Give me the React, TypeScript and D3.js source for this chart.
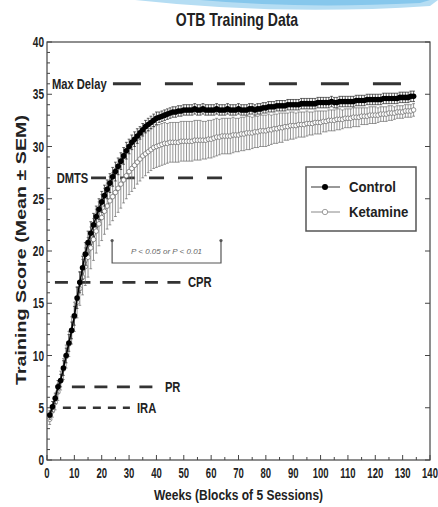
import * as d3 from 'd3'

// weekly means (blocks of 5 sessions)
const controlMean = [
  4.3, 5.1, 5.9, 7.0, 7.6, 8.8, 10.0, 11.2, 12.4, 13.8,
  15.5, 17.0, 18.4, 19.7, 20.8, 21.7, 22.5, 23.3, 24.0, 24.7,
  25.3, 25.9, 26.5, 27.1, 27.6, 28.1, 28.6, 29.1, 29.6, 30.0,
  30.4, 30.7, 31.0, 31.3, 31.6, 31.9, 32.1, 32.3, 32.5, 32.7,
  32.8, 32.9, 33.0, 33.1, 33.2, 33.3, 33.3, 33.4, 33.4, 33.5,
  33.5, 33.5, 33.5, 33.6, 33.5, 33.5, 33.6, 33.5, 33.5, 33.5,
  33.5, 33.6, 33.5, 33.5, 33.5, 33.6, 33.5, 33.5, 33.5, 33.6,
  33.5, 33.5, 33.5, 33.6, 33.6, 33.5, 33.6, 33.6, 33.7, 33.7,
  33.8, 33.8, 33.8, 33.9, 33.9, 33.9, 33.9, 34.0, 34.0, 34.0,
  34.0, 34.0, 34.1, 34.1, 34.1, 34.1, 34.1, 34.1, 34.2, 34.2,
  34.2, 34.2, 34.2, 34.3, 34.2, 34.2, 34.3, 34.3, 34.3, 34.3,
  34.3, 34.3, 34.4, 34.4, 34.4, 34.4, 34.5, 34.5, 34.5, 34.5,
  34.5, 34.5, 34.6, 34.6, 34.6, 34.6, 34.6, 34.6, 34.7, 34.7,
  34.7, 34.7, 34.8, 34.8,
]
const controlSem = [
  0.4, 0.5, 0.5, 0.6, 0.6, 0.7, 0.7, 0.8, 0.8, 0.9,
  1.0, 1.0, 1.1, 1.1, 1.1, 1.1, 1.1, 1.0, 1.0, 1.0,
  1.0, 0.9, 0.9, 0.9, 0.9, 0.8, 0.8, 0.8, 0.8, 0.7,
  0.7, 0.7, 0.7, 0.6, 0.6, 0.6, 0.6, 0.6, 0.6, 0.6,
  0.5, 0.5, 0.5, 0.5, 0.5, 0.5, 0.5, 0.5, 0.5, 0.5,
  0.5, 0.5, 0.5, 0.5, 0.5, 0.5, 0.5, 0.5, 0.5, 0.5,
  0.5, 0.5, 0.5, 0.5, 0.5, 0.5, 0.5, 0.5, 0.5, 0.5,
  0.5, 0.5, 0.5, 0.5, 0.5, 0.5, 0.5, 0.5, 0.5, 0.5,
  0.5, 0.5, 0.5, 0.5, 0.5, 0.5, 0.5, 0.5, 0.5, 0.5,
  0.5, 0.5, 0.5, 0.5, 0.5, 0.5, 0.5, 0.5, 0.5, 0.5,
  0.5, 0.5, 0.5, 0.5, 0.5, 0.5, 0.5, 0.5, 0.5, 0.5,
  0.5, 0.5, 0.5, 0.5, 0.5, 0.5, 0.5, 0.5, 0.5, 0.5,
  0.5, 0.5, 0.5, 0.5, 0.5, 0.5, 0.5, 0.5, 0.5, 0.5,
  0.5, 0.5, 0.5, 0.5,
]
const ketamineMean = [
  3.9, 4.7, 5.5, 6.5, 7.6, 8.7, 9.9, 11.1, 12.4, 13.7,
  15.1, 16.4, 17.5, 18.5, 19.4, 20.3, 21.1, 21.9, 22.6, 23.2,
  23.8, 24.3, 24.8, 25.2, 25.6, 26.0, 26.4, 26.8, 27.2, 27.6,
  27.9, 28.2, 28.5, 28.8, 29.1, 29.3, 29.5, 29.7, 29.9, 30.0,
  30.1, 30.2, 30.3, 30.3, 30.4, 30.4, 30.4, 30.4, 30.5, 30.5,
  30.5, 30.5, 30.5, 30.6, 30.6, 30.6, 30.6, 30.6, 30.7, 30.7,
  30.8, 30.9, 30.9, 31.0, 31.0, 31.0, 31.0, 31.1, 31.1, 31.1,
  31.2, 31.2, 31.3, 31.3, 31.3, 31.4, 31.4, 31.5, 31.5, 31.5,
  31.6, 31.6, 31.7, 31.7, 31.8, 31.8, 31.9, 31.9, 32.0, 32.0,
  32.0, 32.1, 32.1, 32.1, 32.2, 32.2, 32.2, 32.3, 32.3, 32.3,
  32.4, 32.4, 32.5, 32.5, 32.5, 32.6, 32.6, 32.6, 32.7, 32.7,
  32.7, 32.8, 32.8, 32.8, 32.9, 32.9, 32.9, 33.0, 33.0, 33.0,
  33.0, 33.1, 33.1, 33.1, 33.2, 33.2, 33.2, 33.3, 33.3, 33.3,
  33.4, 33.4, 33.4, 33.5,
]
const ketamineSem = [
  0.5, 0.6, 0.7, 0.8, 0.9, 1.0, 1.1, 1.2, 1.3, 1.4,
  1.5, 1.6, 1.7, 1.8, 1.9, 2.0, 2.0, 2.1, 2.1, 2.2,
  2.2, 2.2, 2.3, 2.3, 2.3, 2.3, 2.3, 2.2, 2.2, 2.2,
  2.2, 2.2, 2.1, 2.1, 2.1, 2.1, 2.0, 2.0, 2.0, 2.0,
  2.0, 2.0, 2.0, 1.9, 1.9, 1.9, 1.9, 1.9, 1.9, 1.9,
  1.9, 1.9, 1.9, 1.9, 1.9, 1.9, 1.8, 1.8, 1.8, 1.8,
  1.8, 1.8, 1.7, 1.7, 1.7, 1.7, 1.7, 1.7, 1.6, 1.6,
  1.6, 1.6, 1.6, 1.6, 1.5, 1.5, 1.5, 1.5, 1.5, 1.5,
  1.5, 1.4, 1.4, 1.4, 1.4, 1.4, 1.3, 1.3, 1.3, 1.3,
  1.2, 1.2, 1.2, 1.2, 1.2, 1.1, 1.1, 1.1, 1.1, 1.1,
  1.0, 1.0, 1.0, 1.0, 1.0, 1.0, 1.0, 0.9, 0.9, 0.9,
  0.9, 0.9, 0.9, 0.9, 0.8, 0.8, 0.8, 0.8, 0.8, 0.8,
  0.7, 0.7, 0.7, 0.7, 0.7, 0.7, 0.6, 0.6, 0.6, 0.6,
  0.6, 0.6, 0.6, 0.6,
]

// training criteria levels
const criteria = ['Max Delay', 'DMTS', 'CPR', 'PR', 'IRA']
const criteriaScore = [36, 27, 17, 7, 5]

const xTicks = [0, 10, 20, 30, 40, 50, 60, 70, 80, 90, 100, 110, 120, 130, 140]
const yTicks = [0, 5, 10, 15, 20, 25, 30, 35, 40]

const W = 438
const H = 507
const m = { top: 42, right: 8, bottom: 47, left: 47 }
const font = "'Liberation Sans', Arial, sans-serif"

// where each criterion line is drawn (weeks) and how its label sits
const critLayout = [
  { x0: 24.1, x1: 129.4, dash: '28,24', sw: 3, lx: 1.8, anchor: 'start' },
  { x0: 16.1, x1: 64, dash: '15,14', sw: 2.6, lx: 15.1, anchor: 'end' },
  { x0: 2.9, x1: 49, dash: '13,9.5', sw: 2.8, lx: 51.5, anchor: 'start' },
  { x0: 9.1, x1: 39.5, dash: '13,9.5', sw: 2.6, lx: 43.1, anchor: 'start' },
  { x0: 5.8, x1: 30.3, dash: '8,7', sw: 2.6, lx: 32.9, anchor: 'start' },
]

// bold condensed text: the figure uses a narrow face, so squeeze a regular one
function NText({ x, y, sx = 0.8, size = 14, anchor = 'start', children }: any) {
  return (
    <g transform={`translate(${x},${y}) scale(${sx},1)`}>
      <text textAnchor={anchor} fontFamily={font} fontWeight="bold" fontSize={size} fill="#222">
        {children}
      </text>
    </g>
  )
}

export default function App() {
  const x = d3.scaleLinear().domain([0, 140]).range([m.left, W - m.right])
  const y = d3.scaleLinear().domain([0, 40]).range([H - m.bottom, m.top])
  const weeks = controlMean.map((_, i) => i + 1)

  const line = d3.line<number>().x((_, i) => x(weeks[i])).y(d => y(d))

  const minorX = d3.range(0, 141, 5).filter(v => v % 10 !== 0)
  const minorY = d3.range(0, 41, 1).filter(v => v % 5 !== 0)

  const errBars = (mean: number[], sem: number[], color: string, key: string) =>
    mean.map((v, i) => {
      const cx = x(weeks[i])
      const lo = y(v - sem[i])
      const hi = y(v + sem[i])
      return (
        <g key={key + i} stroke={color} strokeWidth={0.7}>
          <line x1={cx} x2={cx} y1={lo} y2={hi} />
          <line x1={cx - 1.4} x2={cx + 1.4} y1={lo} y2={lo} />
          <line x1={cx - 1.4} x2={cx + 1.4} y1={hi} y2={hi} />
        </g>
      )
    })

  const [x0, x1] = x.range()
  const [yb, yt] = y.range()

  return (
    <svg width={W} height={H} style={{ position: 'absolute', left: 0, top: 0, background: '#fff' }}>
      {/* slide decoration */}
      <path d="M135,0 Q280,16 430,6 L438,0 Z" fill="#b5ddf3" />
      <path d="M200,0 Q300,9 420,3 L430,0 Z" fill="#86c7ec" />

      <NText x={237} y={26} size={18} sx={0.78} anchor="middle">OTB Training Data</NText>

      {/* frame */}
      <rect x={x0} y={yt} width={x1 - x0} height={yb - yt} fill="none" stroke="#444" strokeWidth={1.2} />

      {/* ticks */}
      <g stroke="#444" strokeWidth={1}>
        {xTicks.map(t => <line key={'xt' + t} x1={x(t)} x2={x(t)} y1={yb} y2={yb - 5} />)}
        {minorX.map(t => <line key={'xm' + t} x1={x(t)} x2={x(t)} y1={yb} y2={yb - 3} />)}
        {yTicks.map(t => <line key={'yt' + t} x1={x0} x2={x0 + 5} y1={y(t)} y2={y(t)} />)}
        {minorY.map(t => <line key={'ym' + t} x1={x0} x2={x0 + 3} y1={y(t)} y2={y(t)} />)}
        {yTicks.map(t => <line key={'yr' + t} x1={x1} x2={x1 - 5} y1={y(t)} y2={y(t)} />)}
      </g>
      {xTicks.map(t => (
        <NText key={'xl' + t} x={x(t)} y={yb + 18} size={14} sx={0.68} anchor="middle">{t}</NText>
      ))}
      {yTicks.map(t => (
        <NText key={'yl' + t} x={x0 - 3} y={y(t) + 5} size={14} sx={0.72} anchor="end">{t}</NText>
      ))}
      <NText x={(x0 + x1) / 2} y={500} size={15} sx={0.8} anchor="middle">Weeks (Blocks of 5 Sessions)</NText>
      <text
        transform="translate(26,250) rotate(-90)"
        textAnchor="middle"
        fontFamily={font}
        fontWeight="bold"
        fontSize={15.5}
        fill="#222"
        textLength={270}
        lengthAdjust="spacingAndGlyphs"
      >
        Training Score (Mean ± SEM)
      </text>

      {/* criteria lines */}
      {criteria.map((c, i) => {
        const L = critLayout[i]
        const cy = y(criteriaScore[i])
        return (
          <g key={c}>
            <line x1={x(L.x0)} x2={x(L.x1)} y1={cy} y2={cy} stroke="#333" strokeWidth={L.sw} strokeDasharray={L.dash} />
            <NText x={x(L.lx)} y={cy + 5} size={14} sx={0.8} anchor={L.anchor}>{c}</NText>
          </g>
        )
      })}

      {/* significance bracket */}
      <path
        d={`M${x(23.8)},${y(21)} V${y(18.85)} H${x(63.6)} V${y(21)}`}
        stroke="#555"
        strokeWidth={1.2}
        fill="none"
      />
      <circle cx={x(23.8)} cy={y(21)} r={1.6} fill="#555" />
      <circle cx={x(63.6)} cy={y(21)} r={1.6} fill="#555" />
      <text x={x(43.7)} y={y(19.75)} textAnchor="middle" fontFamily={font} fontStyle="italic" fontSize={8} fill="#666">
        P &lt; 0.05 or P &lt; 0.01
      </text>

      {/* data */}
      {errBars(ketamineMean, ketamineSem, '#6a6a6a', 'ke')}
      <path d={line(ketamineMean) ?? ''} fill="none" stroke="#666" strokeWidth={0.9} />
      {ketamineMean.map((v, i) => (
        <circle key={'k' + i} cx={x(weeks[i])} cy={y(v)} r={2.3} fill="#fff" stroke="#666" strokeWidth={0.7} />
      ))}
      {errBars(controlMean, controlSem, '#222', 'ce')}
      <path d={line(controlMean) ?? ''} fill="none" stroke="#000" strokeWidth={1.5} />
      {controlMean.map((v, i) => (
        <circle key={'c' + i} cx={x(weeks[i])} cy={y(v)} r={2.8} fill="#000" />
      ))}

      {/* legend */}
      <g>
        <rect x={306} y={167} width={110} height={64} fill="#fff" stroke="#555" strokeWidth={1.5} />
        <line x1={311} x2={340} y1={187} y2={187} stroke="#333" strokeWidth={1} />
        <circle cx={325} cy={187} r={3} fill="#000" />
        <line x1={311} x2={340} y1={212} y2={212} stroke="#888" strokeWidth={1} />
        <circle cx={325} cy={212} r={2.7} fill="#fff" stroke="#888" strokeWidth={0.8} />
        <NText x={349} y={192} size={15} sx={0.88}>Control</NText>
        <NText x={349} y={217} size={15} sx={0.88}>Ketamine</NText>
      </g>
    </svg>
  )
}
